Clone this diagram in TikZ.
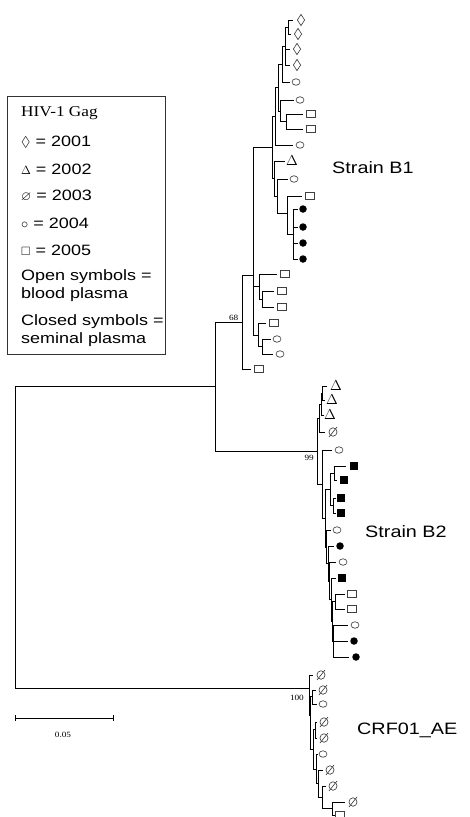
\documentclass[tikz,border=0pt]{standalone}
\usepackage{amssymb}
\usepackage{fontspec}
\setmainfont{Liberation Serif}[FakeStretch=1.15]
\setsansfont{Liberation Sans}[FakeStretch=1.2]
\usetikzlibrary{shapes.geometric}
\newcommand\leafnode[6]{\coordinate (#1) at (#2,#3); \node[#4] (s#1) at (#5,#3) {#6};}
\tikzset{
 branchline/.style={draw=black, line width=0.8pt},
 symOC/.style={ellipse, draw=black!75, line width=0.65pt, inner sep=0pt, minimum width=8pt, minimum height=6.5pt},
 symFC/.style={circle, fill=black, inner sep=0pt, minimum size=7.5pt},
 symOS/.style={rectangle, draw=black!75, line width=0.65pt, inner sep=0pt, minimum width=9pt, minimum height=7pt},
 symFS/.style={rectangle, fill=black, inner sep=0pt, minimum width=8.5pt, minimum height=8pt},
 symDM/.style={diamond, draw=black!75, line width=0.65pt, inner sep=0pt, minimum width=7.5pt, minimum height=11.5pt},
 symTR/.style={inner sep=0pt, font=\fontsize{14}{14}\selectfont},
 symES/.style={ellipse, draw=black!75, line width=0.65pt, inner sep=0pt, minimum width=8pt, minimum height=8.5pt,
   append after command={([shift={(-4pt,-5pt)}]\tikzlastnode.center) edge[draw=black!75, line width=0.65pt] ([shift={(4pt,5pt)}]\tikzlastnode.center)}},
 bootlab/.style={font=\fontsize{8}{8}\selectfont, inner sep=0pt},
 legtext/.style={font=\sffamily\fontsize{15}{18}\selectfont, anchor=west, inner sep=0pt, align=left},
 cladelab/.style={font=\sffamily\fontsize{16.5}{18}\selectfont, anchor=west, inner sep=0pt},
}
\begin{document}
\begin{tikzpicture}[x=1pt,y=-1pt]
\useasboundingbox (0,0) rectangle (470,817);

% ---------- legend ----------
\node[draw=black!80, line width=0.8pt, minimum width=158pt, minimum height=258pt, anchor=north west, inner sep=0pt] (legend) at (7,96) {};
\node[legtext, font=\rmfamily\fontsize{15}{18}\selectfont] (lg0) at (21,113) {HIV-1 Gag};
\node[legtext] (lg1) at (21,142) {{\fontsize{14}{14}\selectfont$\lozenge$} = 2001};
\node[legtext] (lg2) at (21,169) {{\fontsize{13}{13}\selectfont$\Delta$} = 2002};
\node[legtext] (lg3) at (21,196) {{\fontsize{13}{13}\selectfont$\varnothing$} = 2003};
\node[legtext] (lg4) at (21,223) {{\fontsize{14}{14}\selectfont$\circ$} = 2004};
\node[legtext] (lg5) at (21,250) {{\fontsize{12}{12}\selectfont$\square$} = 2005};
\node[legtext] (lg6) at (21,286) {Open symbols =\\blood plasma};
\node[legtext] (lg7) at (21,331) {Closed symbols =\\seminal plasma};

% ---------- Strain B1 clade ----------
\coordinate (n01) at (288,27);
\coordinate (n03) at (285,46);
\coordinate (n04) at (282,64);
\coordinate (n67) at (286,121.5);
\coordinate (n57) at (280,111);
\coordinate (n07) at (278,87);
\coordinate (n08) at (275,116);
\coordinate (n1215) at (293,234);
\coordinate (n1115) at (287,213);
\coordinate (n1015) at (277,196);
\coordinate (n915) at (274,178);
\coordinate (nU) at (272,147);
\coordinate (n1718) at (262,299);
\coordinate (n1618) at (259,286.5);
\coordinate (n2021) at (262,346.5);
\coordinate (n1921) at (258,335);
\coordinate (nA) at (253,275);
\coordinate (n68) at (242,322);

\leafnode{L0}{293}{20}{symDM}{301}{}
\leafnode{L1}{291}{34}{symDM}{298}{}
\leafnode{L2}{290}{49}{symDM}{297}{}
\leafnode{L3}{290}{65}{symDM}{297}{}
\leafnode{L4}{290}{82}{symOC}{296}{}
\leafnode{L5}{294}{100}{symOC}{300}{}
\leafnode{L6}{303}{114}{symOS}{311}{}
\leafnode{L7}{303}{129}{symOS}{311}{}
\leafnode{L8}{293}{145}{symOC}{300}{}
\leafnode{L9}{285}{161}{symTR}{292}{$\Delta$}
\leafnode{L10}{288}{179}{symOC}{294}{}
\leafnode{L11}{302}{196}{symOS}{310}{}
\leafnode{L12}{298}{209}{symFC}{303}{}
\leafnode{L13}{298}{227}{symFC}{303}{}
\leafnode{L14}{298}{243}{symFC}{303}{}
\leafnode{L15}{298}{259}{symFC}{303}{}
\leafnode{L16}{277}{274}{symOS}{285}{}
\leafnode{L17}{274}{291}{symOS}{282}{}
\leafnode{L18}{274}{307}{symOS}{282}{}
\leafnode{L19}{266}{323}{symOS}{274}{}
\leafnode{L20}{271}{339}{symOC}{277}{}
\leafnode{L21}{273}{354}{symOC}{280}{}
\leafnode{L22}{251}{369}{symOS}{259}{}

\draw[branchline] (n01) |- (L0) (n01) |- (L1)
 (n03) |- (n01) (n03) |- (L2) (n03) |- (L3)
 (n04) |- (n03) (n04) |- (L4)
 (n67) |- (L6) (n67) |- (L7)
 (n57) |- (L5) (n57) |- (n67)
 (n07) |- (n04) (n07) |- (n57)
 (n08) |- (n07) (n08) |- (L8)
 (n1215) |- (L12) (n1215) |- (L13) (n1215) |- (L14) (n1215) |- (L15)
 (n1115) |- (L11) (n1115) |- (n1215)
 (n1015) |- (L10) (n1015) |- (n1115)
 (n915) |- (L9) (n915) |- (n1015)
 (nU) |- (n08) (nU) |- (n915)
 (n1718) |- (L17) (n1718) |- (L18)
 (n1618) |- (L16) (n1618) |- (n1718)
 (n2021) |- (L20) (n2021) |- (L21)
 (n1921) |- (L19) (n1921) |- (n2021)
 (nA) |- (nU) (nA) |- (n1618) (nA) |- (n1921)
 (n68) |- (nA) (n68) |- (L22);

% ---------- Strain B2 clade ----------
\coordinate (n2324) at (322.5,393);
\coordinate (n2325) at (321,404);
\coordinate (n2326) at (319.5,418);
\coordinate (n99) at (317,451);
\coordinate (na) at (322,484);
\coordinate (n2829) at (334,473);
\coordinate (n3031) at (333.5,505.5);
\coordinate (nsq) at (330,489);
\coordinate (nb) at (325,518);
\coordinate (nc) at (326.5,547);
\coordinate (nd) at (328,563.5);
\coordinate (ne) at (329.5,581);
\coordinate (nf) at (331,599.5);
\coordinate (ng) at (332,621);
\coordinate (n3637) at (335,601.5);
\coordinate (n3840) at (333.5,641);

\leafnode{L23}{327}{386}{symTR}{336}{$\Delta$}
\leafnode{L24}{325}{400}{symTR}{332}{$\Delta$}
\leafnode{L25}{323.5}{415}{symTR}{330}{$\Delta$}
\leafnode{L26}{325}{432}{symES}{333}{}
\leafnode{L27}{332}{450}{symOC}{339}{}
\leafnode{L28}{346}{466}{symFS}{354}{}
\leafnode{L29}{337}{480}{symFS}{344}{}
\leafnode{L30}{335.5}{498}{symFS}{341}{}
\leafnode{L31}{335.5}{513}{symFS}{341}{}
\leafnode{L32}{331}{530}{symOC}{337}{}
\leafnode{L33}{334}{546}{symFC}{340}{}
\leafnode{L34}{336}{562}{symOC}{343}{}
\leafnode{L35}{336}{578}{symFS}{342}{}
\leafnode{L36}{345}{594}{symOS}{352}{}
\leafnode{L37}{345}{609}{symOS}{352}{}
\leafnode{L38}{348}{625}{symOC}{355}{}
\leafnode{L39}{348}{641}{symFC}{354}{}
\leafnode{L40}{349}{657}{symFC}{356}{}

\draw[branchline] (n2324) |- (L23) (n2324) |- (L24)
 (n2325) |- (n2324) (n2325) |- (L25)
 (n2326) |- (n2325) (n2326) |- (L26)
 (n2829) |- (L28) (n2829) |- (L29)
 (n3031) |- (L30) (n3031) |- (L31)
 (nsq) |- (n2829) (nsq) |- (n3031)
 (n3637) |- (L36) (n3637) |- (L37)
 (n3840) |- (L38) (n3840) |- (L39) (n3840) |- (L40)
 (ng) |- (n3637) (ng) |- (n3840)
 (nf) |- (L35) (nf) |- (ng)
 (ne) |- (L34) (ne) |- (nf)
 (nd) |- (L33) (nd) |- (ne)
 (nc) |- (L32) (nc) |- (nd)
 (nb) |- (nsq) (nb) |- (nc)
 (na) |- (L27) (na) |- (nb)
 (n99) |- (n2326) (n99) |- (na);

% ---------- CRF01_AE clade ----------
\coordinate (ncrf) at (309,688);
\coordinate (nq0) at (310.5,715);
\coordinate (n4243) at (312,696.5);
\coordinate (nq1) at (313,749);
\coordinate (n4445) at (315,729);
\coordinate (nq2) at (316,769);
\coordinate (nq3) at (318,783.5);
\coordinate (nq4) at (322,797);
\coordinate (n4950) at (332,808.5);

\leafnode{L41}{313}{675}{symES}{321}{}
\leafnode{L42}{316}{690}{symES}{323}{}
\leafnode{L43}{317}{704}{symOC}{323}{}
\leafnode{L44}{317}{722}{symES}{324}{}
\leafnode{L45}{317}{738}{symES}{324}{}
\leafnode{L46}{318}{754}{symOC}{323}{}
\leafnode{L47}{323}{770}{symES}{330}{}
\leafnode{L48}{326}{786}{symES}{333}{}
\leafnode{L49}{345}{802}{symES}{353}{}
\leafnode{L50}{335}{815}{symOS}{340}{}

\draw[branchline] (n4950) |- (L49) (n4950) |- (L50)
 (nq4) |- (L48) (nq4) |- (n4950)
 (nq3) |- (L47) (nq3) |- (nq4)
 (nq2) |- (L46) (nq2) |- (nq3)
 (n4445) |- (L44) (n4445) |- (L45)
 (nq1) |- (n4445) (nq1) |- (nq2)
 (n4243) |- (L42) (n4243) |- (L43)
 (nq0) |- (n4243) (nq0) |- (nq1)
 (ncrf) |- (L41) (ncrf) |- (nq0);

% ---------- backbone ----------
\coordinate (nB) at (215,386.5);
\coordinate (root) at (15,540);
\draw[branchline] (nB) |- (n68) (nB) |- (n99)
 (root) |- (nB) (root) |- (ncrf);

% bootstrap values
\node[bootlab, anchor=south east] (lab68) at (238.5,320.5) {68};
\node[bootlab, anchor=north east] (lab99) at (314,455) {99};
\node[bootlab, anchor=north east] (lab100) at (304,694.5) {100};

% clade labels
\node[cladelab] (sB1) at (332,168) {Strain B1};
\node[cladelab] (sB2) at (365,532) {Strain B2};
\node[cladelab] (sCRF) at (357,730) {CRF01\_AE};

% scale bar
\coordinate (sb1) at (15,718);
\coordinate (sb2) at (113,718);
\draw[branchline] (sb1) -- (sb2);
\draw[branchline] ([yshift=3pt]sb1) -- ([yshift=-3pt]sb1);
\draw[branchline] ([yshift=3pt]sb2) -- ([yshift=-3pt]sb2);
\node[bootlab] (sblab) at (63,735) {0.05};
\end{tikzpicture}
\end{document}
